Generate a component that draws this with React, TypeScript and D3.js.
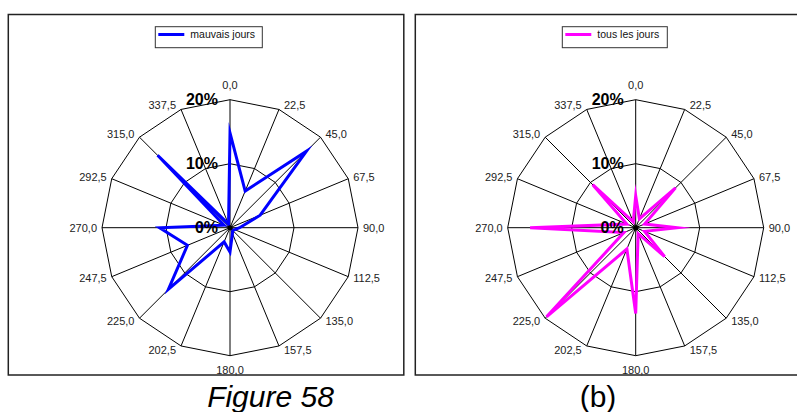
import { useEffect, useRef } from 'react'
import * as d3 from 'd3'

// wind directions (degrees) and frequency (%) per direction
const directions = [0, 22.5, 45, 67.5, 90, 112.5, 135, 157.5, 180, 202.5, 225, 247.5, 270, 292.5, 315, 337.5]
const mauvaisJours = [14.8, 6.2, 16.9, 5.1, 1.5, 0.8, 0.6, 1.0, 3.8, 2.4, 13.6, 7.2, 11.0, 1.0, 16.0, 0.6]
const tousLesJours = [5.0, 1.5, 8.8, 1.5, 6.5, 1.5, 6.4, 1.0, 13.4, 3.6, 19.7, 2.0, 16.5, 1.5, 9.5, 1.0]
const ringTicks = [0, 10, 20]

const W = 797
const H = 412
const FONT = 'Arial, "Liberation Sans", sans-serif'

function drawRadar(
  g: d3.Selection<SVGGElement, unknown, null, undefined>,
  values: number[],
  color: string,
  legendLabel: string,
  cx: number,
  frame: { x: number; w: number },
  legend: { x: number; w: number },
) {
  const cy = 227.7
  const R = 128
  const r = d3.scaleLinear().domain([0, 20]).range([0, R])
  const ang = (d: number) => (d * Math.PI) / 180
  const pt = (d: number, v: number): [number, number] => [cx + r(v) * Math.sin(ang(d)), cy - r(v) * Math.cos(ang(d))]

  // panel frame
  g.append('rect')
    .attr('x', frame.x).attr('y', 14.5).attr('width', frame.w).attr('height', 360.5)
    .attr('fill', '#fff').attr('stroke', '#222').attr('stroke-width', 1.5)

  // legend
  g.append('rect')
    .attr('x', legend.x).attr('y', 26.7).attr('width', legend.w).attr('height', 21)
    .attr('fill', '#fff').attr('stroke', '#333').attr('stroke-width', 1)
  g.append('line')
    .attr('x1', legend.x + 3).attr('x2', legend.x + 29).attr('y1', 34.5).attr('y2', 34.5)
    .attr('stroke', color).attr('stroke-width', 3)
  g.append('text')
    .attr('x', legend.x + 35).attr('y', 38)
    .attr('font-family', FONT).attr('font-size', 10.5).attr('fill', '#111')
    .text(legendLabel)

  // grid rings (16-gons)
  ringTicks.filter(t => t > 0).forEach(t => {
    const poly = d3.line<number>()
      .x(d => pt(d, t)[0])
      .y(d => pt(d, t)[1])
      .curve(d3.curveLinearClosed)
    g.append('path').attr('d', poly(directions)).attr('fill', 'none').attr('stroke', '#000').attr('stroke-width', 1)
  })

  // spokes
  directions.forEach(d => {
    const [x, y] = pt(d, 20)
    g.append('line').attr('x1', cx).attr('y1', cy).attr('x2', x).attr('y2', y)
      .attr('stroke', '#000').attr('stroke-width', 1)
  })

  // data polygon
  const shape = d3.line<number>()
    .x((d, i) => pt(d, values[i])[0])
    .y((d, i) => pt(d, values[i])[1])
    .curve(d3.curveLinearClosed)
  g.append('path').attr('d', shape(directions))
    .attr('fill', 'none').attr('stroke', color).attr('stroke-width', 3)
    .attr('stroke-linejoin', 'miter').attr('stroke-miterlimit', 10)

  g.append('circle').attr('cx', cx).attr('cy', cy).attr('r', 2.5).attr('fill', '#000')

  // ring value labels
  ringTicks.forEach(t => {
    g.append('text')
      .attr('x', cx - 12).attr('y', cy - r(t))
      .attr('dy', '0.35em')
      .attr('text-anchor', 'end')
      .attr('font-family', FONT).attr('font-size', 16).attr('font-weight', 'bold')
      .attr('fill', '#000')
      .text(`${t}%`)
  })

  // direction labels
  directions.forEach(d => {
    const [x, y] = pt(d, 20)
    const s = Math.sin(ang(d))
    const c = Math.cos(ang(d))
    const mid = Math.abs(s) < 0.01
    g.append('text')
      .attr('x', mid ? x : x + (s > 0 ? 5 : -5))
      .attr('y', mid ? y - c * 14.5 : y - c * 4.5)
      .attr('dy', '0.35em')
      .attr('text-anchor', mid ? 'middle' : s > 0 ? 'start' : 'end')
      .attr('font-family', FONT).attr('font-size', 11)
      .attr('fill', '#222')
      .text(d.toFixed(1).replace('.', ','))
  })
}

export default function App() {
  const ref = useRef<SVGSVGElement>(null)

  useEffect(() => {
    const el = ref.current
    if (!el) return
    const svg = d3.select(el)
    svg.selectAll('*').remove()
    svg.append('rect').attr('width', W).attr('height', H).attr('fill', '#fff')

    drawRadar(svg.append('g'), mauvaisJours, '#0000ff', 'mauvais jours', 230, { x: 8.3, w: 395.5 }, { x: 155.3, w: 107 })
    drawRadar(svg.append('g'), tousLesJours, '#ff00ff', 'tous les jours', 635.7, { x: 415.3, w: 400 }, { x: 562.3, w: 105 })

    // captions
    svg.append('text')
      .attr('x', 270.5).attr('y', 407)
      .attr('text-anchor', 'middle')
      .attr('font-family', FONT).attr('font-size', 30).attr('font-style', 'italic')
      .attr('fill', '#000')
      .text('Figure 58')
    svg.append('text')
      .attr('x', 598).attr('y', 407)
      .attr('text-anchor', 'middle')
      .attr('font-family', FONT).attr('font-size', 30)
      .attr('fill', '#000')
      .text('(b)')
  }, [])

  return (
    <svg
      ref={ref}
      width={W}
      height={H}
      style={{ position: 'absolute', left: 0, top: 0, display: 'block' }}
    />
  )
}
